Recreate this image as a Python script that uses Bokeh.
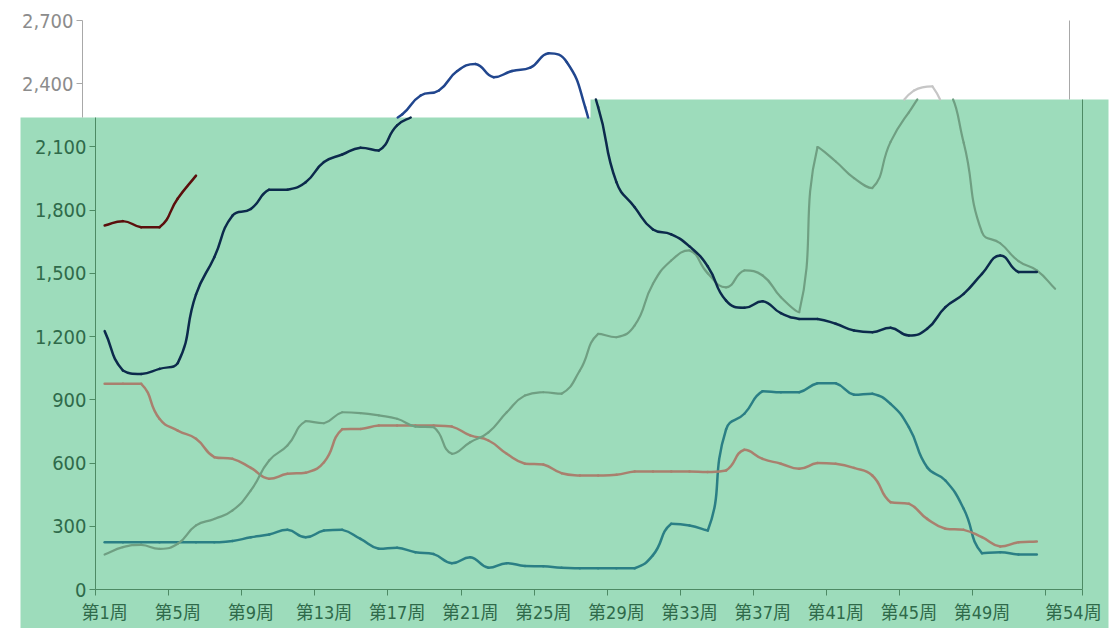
import math
from bokeh.plotting import figure
from bokeh.models import FixedTicker, LinearAxis, BoxAnnotation, NumeralTickFormatter
from bokeh.embed import file_html
from bokeh.resources import INLINE

# ---------------- data ----------------
week_labels_at = [1, 5, 9, 13, 17, 21, 25, 29, 33, 37, 41, 45, 49, 54]
week_tick_labels = ["第%d周" % w for w in week_labels_at]
n_weeks = 54
y_ticks = [0, 300, 600, 900, 1200, 1500, 1800, 2100, 2400, 2700]

series_maroon = [1727, 1748, 1719, 1719, 1855, 1964]
series_navy = [1226, 1039, 1023, 1047, 1074, 1400, 1577, 1775, 1806, 1897,
               1897, 1933, 2028, 2064, 2096, 2083, 2202, 2255, 2344, 2368,
               2460, 2494, 2431, 2460, 2476, 2545, 2502, 2289, 1933, 1814,
               1708, 1685, 1628, 1533, 1371, 1337, 1368, 1311, 1284, 1284,
               1261, 1229, 1221, 1242, 1205, 1237, 1340, 1403, 1498, 1585,
               1506, 1506]
series_gray = [166, 201, 212, 193, 217, 304, 335, 375, 470, 612,
               683, 799, 789, 841, 837, 826, 810, 773, 770, 644,
               699, 746, 841, 921, 936, 929, 1039, 1213, 1197, 1253,
               1451, 1561, 1609, 1500, 1434, 1514, 1490, 1387, 1316, 2099,
               2031, 1952, 1905, 2124, 2264, 2368, 2387, 2120, 1696, 1643,
               1558, 1514, 1427]
series_rose = [976, 976, 976, 810, 754, 715, 628, 620, 577, 525,
               549, 554, 604, 761, 762, 778, 778, 778, 778, 773,
               731, 707, 644, 597, 593, 552, 541, 541, 544, 560,
               560, 560, 560, 557, 565, 663, 620, 597, 573, 600,
               597, 577, 541, 414, 407, 335, 288, 283, 248, 204,
               224, 228]
series_teal = [224, 224, 224, 224, 224, 224, 224, 230, 248, 261,
               283, 248, 280, 283, 240, 193, 198, 177, 168, 125,
               153, 103, 125, 111, 110, 103, 101, 101, 101, 101,
               163, 312, 304, 280, 760, 834, 941, 936, 936, 979,
               979, 924, 929, 881, 770, 580, 517, 383, 172, 177,
               166, 166]

# ---------------- styling / geometry ----------------
GREEN = "#9ddcbb"
TEXT_IN = "#2f6a4a"
AXIS_IN = "#4d8a64"
TEXT_OUT = "#8c8c8c"
AXIS_OUT = "#a8a8a8"
C_NAVY_IN, C_NAVY_OUT = "#0c2a4c", "#21468e"
C_GRAY_IN, C_GRAY_OUT = "#6f9f82", "#c6c6c6"
C_MAROON = "#5b0f0c"
C_ROSE = "#a9806e"
C_TEAL = "#2b7f85"
FONT_NUM = "DejaVu Sans Condensed, sans-serif"
FONT_CAT = "DejaVu Sans Condensed, Noto Sans CJK SC, sans-serif"

W, H = 1114, 628
FL, FR, FT, FB = 95, 1082, 20, 589  # where the week bands and value range sit (px)
X_MIN, X_MAX = 0.5, n_weeks + 0.5
Y_MIN, Y_MAX = 0, 2700
SX = (FR - FL) / (X_MAX - X_MIN)
SY = (FB - FT) / (Y_MAX - Y_MIN)
SMOOTH = 0.5


def xd(px):
    return X_MIN + (px - FL) / SX


def yd(py):
    return Y_MAX - (py - FT) / SY


GREEN_L, GREEN_R, STEP_X, TOP_L, TOP_R = 20, 1108, 590, 117, 99
T_LEFT, T_RIGHT = yd(TOP_L), yd(TOP_R)
XB = xd(STEP_X)
SHIFT = 13 / SX


# ---------- smooth (echarts-like) bezier segments through the data points ----------
def clamp(v, a, b):
    return max(min(a, b), min(max(a, b), v))


def smooth_segments(xs, ys):
    P = [(x * SX, y * SY) for x, y in zip(xs, ys)]
    n = len(P)
    c_next, c_prev = [None] * n, [None] * n
    for i in range(n):
        x, y = P[i]
        px_, py_ = P[max(i - 1, 0)]
        nx_, ny_ = P[min(i + 1, n - 1)]
        vx, vy = nx_ - px_, ny_ - py_
        lp = math.hypot(x - px_, y - py_)
        ln = math.hypot(nx_ - x, ny_ - y)
        r = ln / (ln + lp) if ln + lp > 0 else 0.5
        c0 = (clamp(x + vx * SMOOTH * r, x, nx_), clamp(y + vy * SMOOTH * r, y, ny_))
        c1 = (clamp(x - vx * SMOOTH * (1 - r), x, px_), clamp(y - vy * SMOOTH * (1 - r), y, py_))
        c_next[i], c_prev[i] = c0, c1
    to_d = lambda q: (q[0] / SX, q[1] / SY)
    return [[to_d(P[i]), to_d(c_next[i]), to_d(c_prev[i + 1]), to_d(P[i + 1])] for i in range(n - 1)]


def bez(seg, t):
    (x0, y0), (x1, y1), (x2, y2), (x3, y3) = seg
    m = 1 - t
    return (m ** 3 * x0 + 3 * m * m * t * x1 + 3 * m * t * t * x2 + t ** 3 * x3,
            m ** 3 * y0 + 3 * m * m * t * y1 + 3 * m * t * t * y2 + t ** 3 * y3)


def split(seg, t):
    lerp = lambda a, b: (a[0] + (b[0] - a[0]) * t, a[1] + (b[1] - a[1]) * t)
    p0, p1, p2, p3 = seg
    a, b, c = lerp(p0, p1), lerp(p1, p2), lerp(p2, p3)
    d, e = lerp(a, b), lerp(b, c)
    m = lerp(d, e)
    return [p0, a, d, m], [m, e, c, p3]


def sub(seg, t0, t1):
    s, rel = seg, t0
    if t1 < 1:
        s = split(s, t1)[0]
        rel = t0 / t1
    if rel > 0:
        s = split(s, rel)[1]
    return s


def inside(pt, keep_above):
    x, y = pt
    T = T_LEFT if x < XB else T_RIGHT
    return y >= T if keep_above else y <= T


def refine(seg, ta, tb, keep_above):
    fa = inside(bez(seg, ta), keep_above)
    for _ in range(30):
        tm = (ta + tb) / 2
        if inside(bez(seg, tm), keep_above) == fa:
            ta = tm
        else:
            tb = tm
    return (ta + tb) / 2


def clip_segments(segs, keep_above):
    out, N = [], 80
    for seg in segs:
        ts = [i / N for i in range(N + 1)]
        fl = [inside(bez(seg, t), keep_above) for t in ts]
        i = 0
        while i <= N:
            if fl[i]:
                j = i
                while j + 1 <= N and fl[j + 1]:
                    j += 1
                t0 = 0.0 if i == 0 else refine(seg, ts[i - 1], ts[i], keep_above)
                t1 = 1.0 if j == N else refine(seg, ts[j], ts[j + 1], keep_above)
                if t1 > t0:
                    out.append(sub(seg, t0, t1))
                i = j + 1
            else:
                i += 1
    return out


p = figure(width=W, height=H, x_range=(xd(0), xd(W)), y_range=(yd(H), yd(0)),
           output_backend="svg", toolbar_location=None,
           x_axis_location=None, y_axis_location=None,
           min_border=0, min_border_left=0, min_border_right=0,
           min_border_top=0, min_border_bottom=0,
           border_fill_color="white", background_fill_color="white",
           outline_line_color=None)
p.title.visible = False
p.grid.visible = False

# green overlay blocks (under the lines)
p.add_layout(BoxAnnotation(left=xd(GREEN_L), right=xd(STEP_X + 1), top=T_LEFT, bottom=yd(H),
                           fill_color=GREEN, fill_alpha=1, line_color=None, level="underlay"))
p.add_layout(BoxAnnotation(left=XB, right=xd(GREEN_R), top=T_RIGHT, bottom=yd(H),
                           fill_color=GREEN, fill_alpha=1, line_color=None, level="underlay"))


def style_axis(ax, line_c, text_c, font, size):
    ax.axis_line_color = line_c
    ax.major_tick_line_color = line_c
    ax.minor_tick_line_color = None
    ax.major_tick_in = 0
    ax.major_tick_out = 6
    ax.major_label_text_color = text_c
    ax.major_label_text_font = font
    ax.major_label_text_font_size = size


# x axis
xa = LinearAxis(fixed_location=Y_MIN, bounds=(X_MIN, X_MAX),
                ticker=FixedTicker(ticks=week_labels_at,
                                   minor_ticks=[w - 0.5 for w in range(1, n_weeks + 2, 4)] + [X_MAX]))
style_axis(xa, AXIS_IN, TEXT_IN, FONT_CAT, "18px")
xa.major_label_overrides = {w: t for w, t in zip(week_labels_at, week_tick_labels)}
xa.major_tick_line_color = None
xa.minor_tick_in = 0
xa.minor_tick_out = 6
xa.minor_tick_line_color = AXIS_IN
xa.major_label_standoff = 6
p.add_layout(xa, "below")

# y axis, lower (green) part
ya = LinearAxis(fixed_location=X_MIN, bounds=(Y_MIN, T_LEFT),
                ticker=FixedTicker(ticks=[v for v in y_ticks if v <= T_LEFT]),
                formatter=NumeralTickFormatter(format="0,0"))
style_axis(ya, AXIS_IN, TEXT_IN, FONT_NUM, "20px")
ya.major_label_standoff = 3
p.add_layout(ya, "left")

# y axis, upper (grey) part, shifted like the picture
yo = LinearAxis(fixed_location=X_MIN - SHIFT, bounds=(T_LEFT, Y_MAX),
                ticker=FixedTicker(ticks=[v for v in y_ticks if v > T_LEFT]),
                formatter=NumeralTickFormatter(format="0,0"))
style_axis(yo, AXIS_OUT, TEXT_OUT, FONT_NUM, "20px")
yo.major_label_standoff = 3
p.add_layout(yo, "left")

# right-hand frame lines
for loc, bnds, col in [(X_MAX, (Y_MIN, T_RIGHT), AXIS_IN), (X_MAX - SHIFT, (T_RIGHT, Y_MAX), AXIS_OUT)]:
    ra = LinearAxis(fixed_location=loc, bounds=bnds, ticker=FixedTicker(ticks=[]),
                    axis_line_color=col, major_tick_line_color=None,
                    minor_tick_line_color=None, major_label_text_font_size="0px")
    p.add_layout(ra, "right")


def draw(segs, color, width):
    if not segs:
        return
    p.bezier(x0=[s[0][0] for s in segs], y0=[s[0][1] for s in segs],
             x1=[s[3][0] for s in segs], y1=[s[3][1] for s in segs],
             cx0=[s[1][0] for s in segs], cy0=[s[1][1] for s in segs],
             cx1=[s[2][0] for s in segs], cy1=[s[2][1] for s in segs],
             line_color=color, line_width=width, line_cap="round")


weeks = list(range(1, n_weeks + 1))
draw(smooth_segments(weeks[:len(series_teal)], series_teal), C_TEAL, 2.5)
draw(smooth_segments(weeks[:len(series_rose)], series_rose), C_ROSE, 2.5)

gx = weeks[:len(series_gray)]
draw(clip_segments(smooth_segments(gx, series_gray), False), C_GRAY_IN, 2.2)
draw(clip_segments(smooth_segments([w - SHIFT for w in gx], series_gray), True), C_GRAY_OUT, 2.2)

nx = weeks[:len(series_navy)]
draw(clip_segments(smooth_segments(nx, series_navy), False), C_NAVY_IN, 2.5)
draw(clip_segments(smooth_segments([w - SHIFT for w in nx], series_navy), True), C_NAVY_OUT, 2.5)

draw(smooth_segments(weeks[:len(series_maroon)], series_maroon), C_MAROON, 2.5)

open("out.html", "w").write(file_html(p, INLINE))
